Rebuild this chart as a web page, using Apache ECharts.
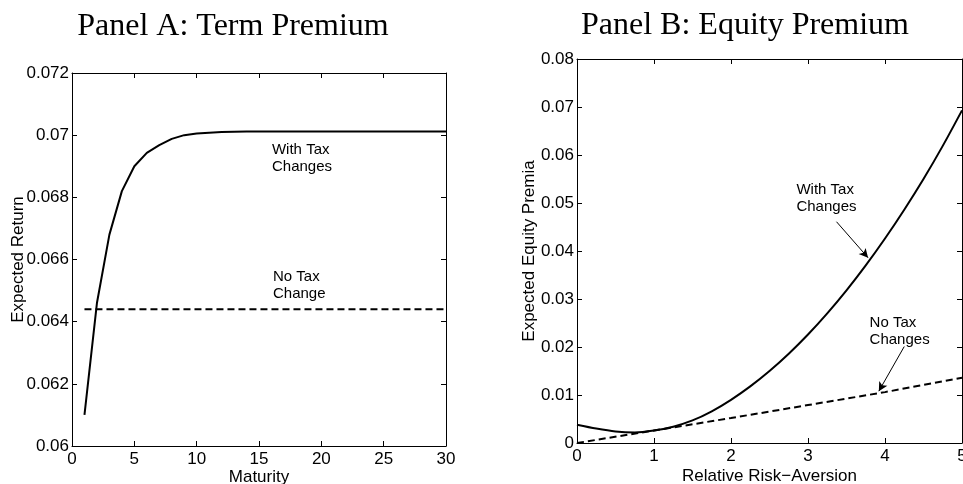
<!DOCTYPE html>
<html>
<head>
<meta charset="utf-8">
<script src="https://cdn.jsdelivr.net/npm/echarts@6/dist/echarts.min.js"></script>
<style>
html,body{margin:0;padding:0;background:#fff;}
#chart{width:963px;height:484px;}
</style>
</head>
<body>
<div id="chart"></div>
<script>
// ---------- Panel A data ----------
const maturity = [1,2,3,4,5,6,7,8,9,10,11,12,13,14,15,16,17,18,19,20,21,22,23,24,25,26,27,28,29,30];
const termWithTax = [0.0610,0.0646,0.0668,0.0682,0.0690,0.06943,0.06968,0.06988,0.07000,0.07005,
                     0.07008,0.07010,0.07011,0.07012,0.07012,0.07012,0.07012,0.07012,0.07012,0.07012,
                     0.07012,0.07012,0.07012,0.07012,0.07012,0.07012,0.07012,0.07012,0.07012,0.07012];
const termNoTaxX = [1, 30];
const termNoTax = [0.0644, 0.0644];
const aXTicks = [0,5,10,15,20,25,30];
const aYTicks = [0.06,0.062,0.064,0.066,0.068,0.07,0.072];

// ---------- Panel B data ----------
const rra = [0,0.25,0.5,0.75,1,1.25,1.5,1.75,2,2.25,2.5,2.75,3,3.25,3.5,3.75,4,4.25,4.5,4.75,5];
const eqWithTax = [0.0038,0.0030,0.0024,0.0022,0.0026,0.0034,0.0047,0.0066,0.0090,0.0118,0.0150,
                   0.0186,0.0226,0.0270,0.0318,0.0370,0.0426,0.0486,0.0550,0.0619,0.0693];
const rraNoTax = [0,1,2,3,4,5];
const eqNoTax = [0,0.0026,0.0052,0.0079,0.0106,0.0136];
const bXTicks = [0,1,2,3,4,5];
const bYTicks = [0,0.01,0.02,0.03,0.04,0.05,0.06,0.07,0.08];

const SANS = '"Liberation Sans", Arial, sans-serif';
const SERIF = '"Liberation Serif", "Times New Roman", serif';
const INK = '#000';

function zip(xs, ys){ return xs.map((x,i)=>[x, ys[i]]); }

function axisPair(kind, grid, ticks, interval, name, nameGap, withLabels, position){
  const base = {
    type:'value', gridIndex:grid, position:position,
    min:ticks[0], max:ticks[ticks.length-1], interval:interval,
    axisLine:{show:true, onZero:false, lineStyle:{color:INK, width:1}},
    axisTick:{show:true, inside:true, length:5, lineStyle:{color:INK, width:1}},
    splitLine:{show:false},
    axisLabel:{show:withLabels, color:INK, fontFamily:SANS, fontSize:17, margin: kind==='x'?5:3,
               hideOverlap:false},
  };
  if (withLabels && name){
    base.name = name;
    base.nameLocation = 'middle';
    base.nameGap = nameGap;
    base.nameMoveOverlap = false;
    base.nameTextStyle = {color:INK, fontFamily:SANS, fontSize:17};
    if (kind==='y') base.nameRotate = 90;
  }
  return base;
}

const noteLabel = (txt)=>({show:true, position:'right', distance:0, formatter:txt,
  color:INK, fontFamily:SANS, fontSize:15, lineHeight:17, align:'left'});

const option = {
  animation:false,
  backgroundColor:'#fff',
  graphic:[
    {type:'text', x:233, y:27, style:{text:'Panel A: Term Premium', font:'32px ' + SERIF, fill:INK, align:'center', verticalAlign:'middle'}},
    {type:'text', x:745, y:26, style:{text:'Panel B: Equity Premium', font:'32px ' + SERIF, fill:INK, align:'center', verticalAlign:'middle'}}
  ],
  grid:[
    {left:72, top:73, width:374, height:373, containLabel:false, outerBoundsMode:'none'},
    {left:577, top:59, width:385, height:384, containLabel:false, outerBoundsMode:'none'}
  ],
  xAxis:[
    axisPair('x',0,aXTicks,5,'Maturity',23,true,'bottom'),
    axisPair('x',0,aXTicks,5,null,0,false,'top'),
    axisPair('x',1,bXTicks,1,'Relative Risk\u2212Aversion',25,true,'bottom'),
    axisPair('x',1,bXTicks,1,null,0,false,'top')
  ],
  yAxis:[
    axisPair('y',0,aYTicks,0.002,'Expected Return',45,true,'left'),
    axisPair('y',0,aYTicks,0.002,null,0,false,'right'),
    axisPair('y',1,bYTicks,0.01,'Expected Equity Premia',39,true,'left'),
    axisPair('y',1,bYTicks,0.01,null,0,false,'right')
  ],
  series:[
    {
      type:'line', xAxisIndex:0, yAxisIndex:0, data:zip(maturity, termWithTax),
      showSymbol:false, silent:true, lineStyle:{color:INK, width:2},
      markPoint:{silent:true, symbol:'circle', symbolSize:0, label:noteLabel('With Tax\nChanges'),
        data:[{coord:[16.04, 0.06926]}]}
    },
    {
      type:'line', xAxisIndex:0, yAxisIndex:0, data:zip(termNoTaxX, termNoTax),
      showSymbol:false, silent:true, lineStyle:{color:INK, width:2, type:[7,4]},
      markPoint:{silent:true, symbol:'circle', symbolSize:0, label:noteLabel('No Tax\nChange'),
        data:[{coord:[16.12, 0.06517]}]}
    },
    {
      type:'line', xAxisIndex:2, yAxisIndex:2, data:zip(rra, eqWithTax),
      showSymbol:false, silent:true, smooth:0.3, lineStyle:{color:INK, width:2},
      markPoint:{silent:true, symbol:'circle', symbolSize:0, label:noteLabel('With Tax\nChanges'),
        data:[{coord:[2.85, 0.0509]}]},
      markLine:{silent:true, symbol:['none','arrow'], symbolSize:[7,9], label:{show:false},
        lineStyle:{color:INK, width:1, type:'solid'},
        data:[[{coord:[3.37,0.0461]},{coord:[3.78,0.0386]}]]}
    },
    {
      type:'line', xAxisIndex:2, yAxisIndex:2, data:zip(rraNoTax, eqNoTax),
      showSymbol:false, silent:true, lineStyle:{color:INK, width:2, type:[7,4]},
      markPoint:{silent:true, symbol:'circle', symbolSize:0, label:noteLabel('No Tax\nChanges'),
        data:[{coord:[3.80, 0.02335]}]},
      markLine:{silent:true, symbol:['none','arrow'], symbolSize:[7,9], label:{show:false},
        lineStyle:{color:INK, width:1, type:'solid'},
        data:[[{coord:[4.25,0.0201]},{coord:[3.92,0.0108]}]]}
    }
  ]
};

const chart = echarts.init(document.getElementById('chart'), null, {renderer:'canvas'});
chart.setOption(option);
</script>
</body>
</html>
